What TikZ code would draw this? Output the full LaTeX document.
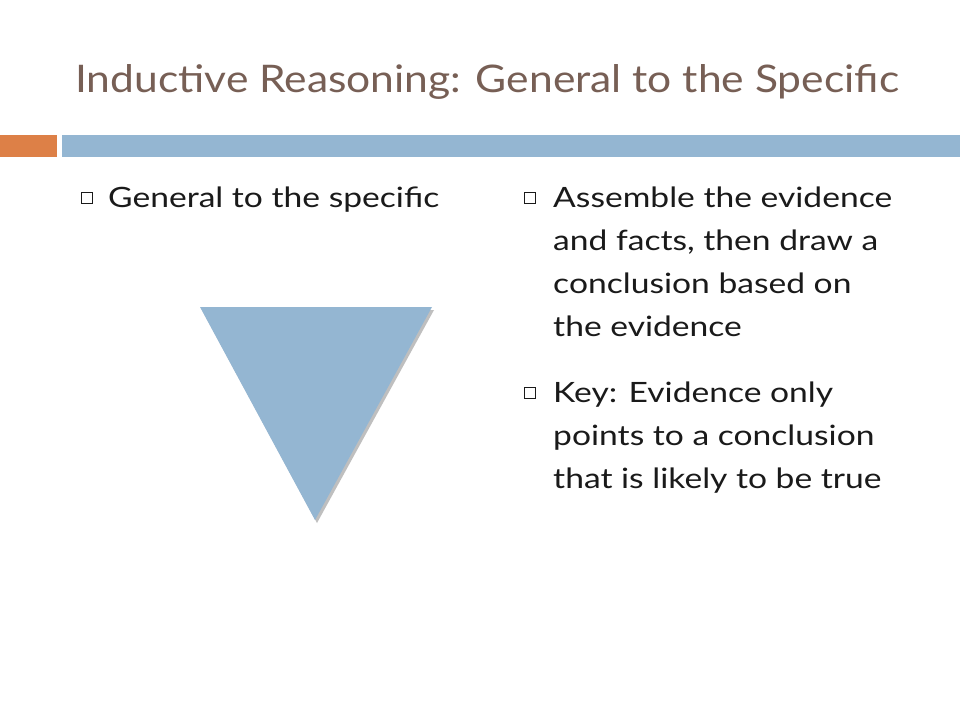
\documentclass[tikz,border=0pt]{standalone}
\usepackage{fontspec}
\setmainfont{Lato}
\newfontfamily\widefont[FakeStretch=1.2]{Lato}
\newfontfamily\titlefont[FakeStretch=1.12]{Lato}
\definecolor{titlec}{HTML}{775F55}
\definecolor{orangec}{HTML}{DD8047}
\definecolor{bluec}{HTML}{94B6D2}
\definecolor{textc}{HTML}{1A1A1A}
\tikzset{
  bul/.style={draw=textc, line width=0.8pt, minimum size=11pt, inner sep=0pt},
  txt/.style={anchor=base west, inner sep=0pt, font=\widefont\fontsize{28}{28}\selectfont, text=textc},
}
\begin{document}
\begin{tikzpicture}[x=1pt,y=-1pt]
\useasboundingbox (0,0) rectangle (960,720);
\fill[white] (0,0) rectangle (960,720);
\node[anchor=base west, inner sep=0pt, font=\titlefont\fontsize{38}{38}\selectfont, text=titlec] (title) at (75,92) {Inductive Reasoning: General to the Specific};
\fill[orangec] (0,135) rectangle (57,157);
\fill[bluec] (62,135) rectangle (960,157);
% left column
\node[bul] (b1) at (87,198) {};
\node[txt] (t1) at (108,207) {General to the specific};
% triangle
\fill[black!25] (202,310) -- (434,310) -- (317,523) -- cycle;
\fill[bluec] (200,307) -- (432,307) -- (315,520) -- cycle;
% right column
\node[bul] (b2) at (530,198) {};
\node[txt] (t2) at (553,207) {Assemble the evidence};
\node[txt] (t3) at (553,250) {and facts, then draw a};
\node[txt] (t4) at (553,293) {conclusion based on};
\node[txt] (t5) at (553,336) {the evidence};
\node[bul] (b3) at (530,393) {};
\node[txt] (t6) at (553,402) {Key: Evidence only};
\node[txt] (t7) at (553,445) {points to a conclusion};
\node[txt] (t8) at (553,488) {that is likely to be true};
\end{tikzpicture}
\end{document}
